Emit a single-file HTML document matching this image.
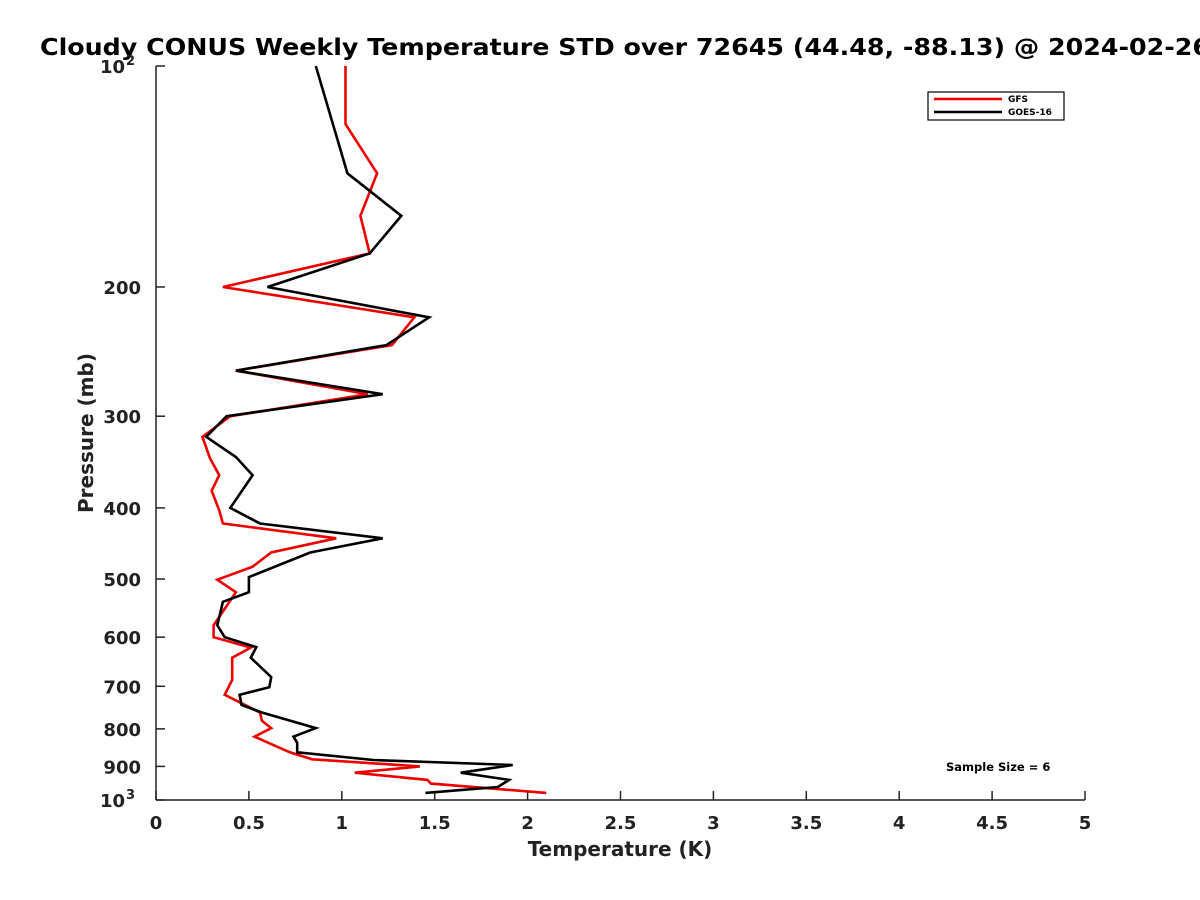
<!DOCTYPE html>
<html><head><meta charset="utf-8"><style>
body{margin:0;background:#fff;}
svg{display:block;font-family:"DejaVu Sans","Liberation Sans",sans-serif;font-weight:bold;}
</style></head><body>
<svg id="chart" width="1200" height="900">
<rect width="1200" height="900" fill="#fff"/>
<text x="40" y="55" font-size="23" textLength="1170" lengthAdjust="spacingAndGlyphs" fill="#000">Cloudy CONUS Weekly Temperature STD over 72645 (44.48, -88.13) @ 2024-02-26</text>
<g id="axes"></g>
<g id="series"></g>
<text x="620" y="856" font-size="20" text-anchor="middle" fill="#222">Temperature (K)</text>
<text transform="translate(93,433) rotate(-90)" font-size="20" text-anchor="middle" fill="#222">Pressure (mb)</text>
<g>
<rect x="928" y="92" width="136" height="28" fill="#fff" stroke="#000" stroke-width="1.2"/>
<line x1="934" y1="99" x2="1002" y2="99" stroke="#e00" stroke-width="2.5"/>
<text x="1008" y="102" font-size="9">GFS</text>
<line x1="934" y1="112" x2="1002" y2="112" stroke="#000" stroke-width="2.5"/>
<text x="1008" y="115" font-size="9">GOES-16</text>
</g>
<text x="946" y="771" font-size="11.5">Sample Size = 6</text>
</svg>
<script>
const xTicks=[0,0.5,1,1.5,2,2.5,3,3.5,4,4.5,5];
const xTickLabels=["0","0.5","1","1.5","2","2.5","3","3.5","4","4.5","5"];
const yTicks=[200,300,400,500,600,700,800,900];
const gfsP=[100,120,140,160,180,200,220,240,260,280,300,320,342,361,379,403,420,440,460,481,501,521,578,600,620,640,670,686,719,760,780,798,820,861,880,900,918,939,950,978];
const gfsT=[1.02,1.02,1.19,1.10,1.15,0.36,1.39,1.27,0.43,1.14,0.40,0.25,0.29,0.34,0.30,0.34,0.36,0.97,0.62,0.52,0.33,0.43,0.31,0.31,0.51,0.41,0.41,0.41,0.37,0.56,0.57,0.62,0.53,0.72,0.84,1.42,1.07,1.46,1.48,2.10];
const goesP=[100,140,160,180,200,220,240,260,280,300,320,341,361,400,420,440,460,497,521,537,578,600,619,640,680,702,719,742,760,798,820,836,861,882,896,918,939,960,978];
const goesT=[0.86,1.03,1.32,1.15,0.60,1.47,1.24,0.43,1.22,0.38,0.27,0.43,0.52,0.40,0.56,1.22,0.83,0.50,0.50,0.36,0.33,0.37,0.54,0.51,0.62,0.61,0.45,0.46,0.57,0.86,0.74,0.76,0.76,1.17,1.92,1.64,1.90,1.84,1.45];
const NS="http://www.w3.org/2000/svg";
const X0=156,X1=1085,Y0=66,Y1=800;
const xs=t=>X0+(X1-X0)*t/5;
const ys=p=>Y0+(Y1-Y0)*(Math.log10(p)-2);
function mk(tag,attrs,parent){const e=document.createElementNS(NS,tag);for(const k in attrs)e.setAttribute(k,attrs[k]);parent.appendChild(e);return e;}
const ax=document.getElementById('axes');
let l=mk('line',{x1:X0,y1:Y1,x2:X1,y2:Y1,stroke:'#222','stroke-width':1.5},ax);


l=mk('line',{x1:X0,y1:Y0,x2:X0,y2:Y1,stroke:'#222','stroke-width':1.5},ax);


xTicks.forEach((v,i)=>{const x=xs(v);
 const t=mk('line',{x1:x,y1:Y1,x2:x,y2:Y1-9,stroke:'#222','stroke-width':1.5},ax);
 
 
 const tx=mk('text',{x:x,y:Y1+29,'font-size':18,'text-anchor':'middle',fill:'#222'},ax);
 tx.textContent=xTickLabels[i];
 
 });
[100,1000].concat(yTicks).forEach(v=>{const y=ys(v);
 const t=mk('line',{x1:X0,y1:y,x2:X0+9,y2:y,stroke:'#222','stroke-width':1.5},ax);
 
 });
yTicks.forEach(v=>{const y=ys(v);
 const tx=mk('text',{x:X0-15,y:y+7,'font-size':18,'text-anchor':'end',fill:'#222'},ax);
 tx.textContent=String(v);
 
 });
[[100,'2'],[1000,'3']].forEach(([v,e])=>{const y=ys(v);
 const tx=mk('text',{x:X0-31,y:y+7,'font-size':18,'text-anchor':'end',fill:'#222'},ax);
 tx.textContent='10';
 
 
 const sp=mk('text',{x:X0-30,y:y-1,'font-size':13,'text-anchor':'start',fill:'#222'},ax);
 sp.textContent=e;
 
 });
const sg=document.getElementById('series');
function line(T,P,color,name){const d=T.map((t,i)=>(i?'L':'M')+xs(t).toFixed(1)+','+ys(P[i]).toFixed(1)).join('');
 const p=mk('path',{d:d,fill:'none',stroke:color,'stroke-width':2.6,'stroke-linejoin':'miter'},sg);
 
 }
line(gfsT,gfsP,'#e00','gfs-line');
line(goesT,goesP,'#000','goes16-line');
</script>
</body></html>
